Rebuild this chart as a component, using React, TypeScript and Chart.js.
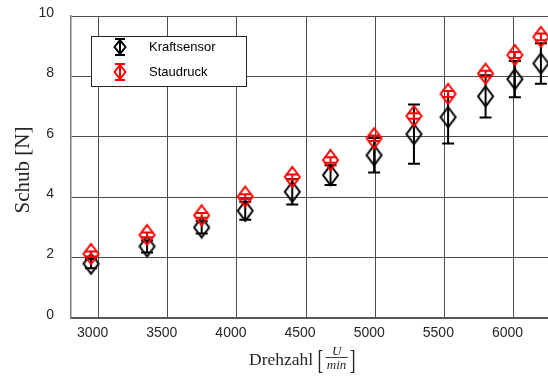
import React, { useEffect, useRef } from "react";
import { Chart, registerables } from "chart.js";

Chart.register(...registerables);

// Drehzahl (rpm) of each measurement
const rpm = [2945, 3350, 3745, 4060, 4400, 4677, 4992, 5280, 5527, 5798, 6010, 6198];

// Thrust from the force sensor: mean and error
const kraftMean = [1.8, 2.37, 3.0, 3.55, 4.18, 4.73, 5.39, 6.09, 6.65, 7.34, 7.91, 8.43];
const kraftErr = [0.15, 0.2, 0.2, 0.3, 0.42, 0.33, 0.57, 0.98, 0.87, 0.7, 0.6, 0.67];

// Thrust from the pitot (Staudruck) measurement: mean and error
const staudruckMean = [2.12, 2.75, 3.4, 4.02, 4.67, 5.23, 5.95, 6.69, 7.42, 8.09, 8.71, 9.31];
const staudruckErr = [0.08, 0.08, 0.08, 0.08, 0.08, 0.09, 0.09, 0.09, 0.1, 0.1, 0.1, 0.11];

const xTicks = [3000, 3500, 4000, 4500, 5000, 5500, 6000];
const yTicks = [0, 2, 4, 6, 8, 10];

const seriesNames = ["Kraftsensor", "Staudruck"];
const seriesColors = ["#000000", "#ff0000"];

const TEXT = "#262626";
const SANS = '"Liberation Sans", Arial, sans-serif';
const SERIF = '"Liberation Serif", "Times New Roman", serif';

function makeDiamond(color: string, w: number, h: number, lw: number) {
  const c = document.createElement("canvas");
  c.width = w + lw * 2 + 2;
  c.height = h + lw * 2 + 2;
  const ctx = c.getContext("2d")!;
  ctx.strokeStyle = color;
  ctx.lineWidth = lw;
  const cx = c.width / 2;
  const cy = c.height / 2;
  ctx.beginPath();
  ctx.moveTo(cx, cy - h / 2);
  ctx.lineTo(cx + w / 2, cy);
  ctx.lineTo(cx, cy + h / 2);
  ctx.lineTo(cx - w / 2, cy);
  ctx.closePath();
  ctx.stroke();
  return c;
}

function drawDiamond(ctx: CanvasRenderingContext2D, x: number, y: number, w: number, h: number) {
  ctx.beginPath();
  ctx.moveTo(x, y - h / 2);
  ctx.lineTo(x + w / 2, y);
  ctx.lineTo(x, y + h / 2);
  ctx.lineTo(x - w / 2, y);
  ctx.closePath();
  ctx.stroke();
}

function drawErrorBar(ctx: CanvasRenderingContext2D, x: number, yTop: number, yBot: number, cap: number) {
  ctx.beginPath();
  ctx.moveTo(x, yTop);
  ctx.lineTo(x, yBot);
  ctx.moveTo(x - cap / 2, yTop);
  ctx.lineTo(x + cap / 2, yTop);
  ctx.moveTo(x - cap / 2, yBot);
  ctx.lineTo(x + cap / 2, yBot);
  ctx.stroke();
}

const errorSets = [
  { mean: kraftMean, err: kraftErr },
  { mean: staudruckMean, err: staudruckErr },
];

const errorBarPlugin = {
  id: "errorBars",
  beforeDatasetDraw(chart: any, args: any) {
    const set = errorSets[args.index];
    if (!set) return;
    const { ctx, chartArea, scales } = chart;
    ctx.save();
    ctx.beginPath();
    ctx.rect(chartArea.left, chartArea.top, chartArea.right - chartArea.left, chartArea.bottom - chartArea.top);
    ctx.clip();
    ctx.strokeStyle = seriesColors[args.index];
    ctx.lineWidth = 2;
    rpm.forEach((r, i) => {
      const x = scales.x.getPixelForValue(r);
      const yTop = scales.y.getPixelForValue(set.mean[i] + set.err[i]);
      const yBot = scales.y.getPixelForValue(set.mean[i] - set.err[i]);
      drawErrorBar(ctx, x, yTop, yBot, 12);
    });
    ctx.restore();
  },
};

const decorPlugin = {
  id: "decor",
  afterDraw(chart: any) {
    const { ctx } = chart;
    ctx.save();

    // legend box
    ctx.fillStyle = "#ffffff";
    ctx.fillRect(91.5, 36.5, 155, 50);
    ctx.strokeStyle = TEXT;
    ctx.lineWidth = 1;
    ctx.strokeRect(91.5, 36.5, 155, 50);
    const rows = [47, 72];
    rows.forEach((y, i) => {
      ctx.strokeStyle = seriesColors[i];
      ctx.lineWidth = 2;
      drawErrorBar(ctx, 120, y - 8, y + 8, 10);
      drawDiamond(ctx, 120, y, 11, 14);
      ctx.fillStyle = "#000000";
      ctx.font = `13px ${SANS}`;
      ctx.textAlign = "left";
      ctx.textBaseline = "middle";
      ctx.fillText(seriesNames[i], 149, y);
    });

    // y axis title
    ctx.fillStyle = TEXT;
    ctx.save();
    ctx.translate(23, 170);
    ctx.rotate(-Math.PI / 2);
    ctx.font = `21px ${SERIF}`;
    ctx.textAlign = "center";
    ctx.textBaseline = "middle";
    ctx.fillText("Schub [N]", 0, 0);
    ctx.restore();

    // x axis title with fraction U/min
    const base = 365;
    let x = 249;
    ctx.textAlign = "left";
    ctx.textBaseline = "alphabetic";
    ctx.font = `17.5px ${SERIF}`;
    ctx.fillText("Drehzahl", x, base);
    x += ctx.measureText("Drehzahl ").width;
    ctx.save();
    ctx.translate(x, base + 4);
    ctx.scale(1, 1.55);
    ctx.fillText("[", 0, 0);
    ctx.restore();
    x += ctx.measureText("[").width + 2;
    ctx.font = `italic 13px ${SERIF}`;
    const fw = ctx.measureText("min").width + 3;
    const fc = x + fw / 2;
    ctx.textAlign = "center";
    ctx.fillText("U", fc, base - 10);
    ctx.fillText("min", fc, base + 4);
    ctx.strokeStyle = TEXT;
    ctx.lineWidth = 0.9;
    ctx.beginPath();
    ctx.moveTo(x, base - 7.5);
    ctx.lineTo(x + fw, base - 7.5);
    ctx.stroke();
    x += fw + 2;
    ctx.textAlign = "left";
    ctx.font = `17.5px ${SERIF}`;
    ctx.save();
    ctx.translate(x, base + 4);
    ctx.scale(1, 1.55);
    ctx.fillText("]", 0, 0);
    ctx.restore();

    ctx.restore();
  },
};

export default function App() {
  const canvasRef = useRef<HTMLCanvasElement | null>(null);

  useEffect(() => {
    const canvas = canvasRef.current;
    if (!canvas) return;

    const blackDiamond = makeDiamond(seriesColors[0], 15, 20, 2);
    const redDiamond = makeDiamond(seriesColors[1], 15, 20, 2);

    const chart = new Chart(canvas, {
      type: "scatter",
      data: {
        datasets: [
          {
            label: seriesNames[0],
            data: rpm.map((r, i) => ({ x: r, y: kraftMean[i] })),
            pointStyle: blackDiamond as any,
            order: 2,
          },
          {
            label: seriesNames[1],
            data: rpm.map((r, i) => ({ x: r, y: staudruckMean[i] })),
            pointStyle: redDiamond as any,
            order: 1,
          },
        ],
      },
      options: {
        responsive: false,
        animation: false,
        events: [],
        layout: { padding: { left: 0, top: 16, right: 15, bottom: 0 } },
        plugins: {
          legend: { display: false },
          tooltip: { enabled: false },
        },
        scales: {
          x: {
            type: "linear",
            min: 2800,
            max: 6300,
            afterBuildTicks: (scale: any) => {
              scale.ticks = xTicks.map((v) => ({ value: v }));
            },
            afterFit: (scale: any) => {
              scale.height = 58;
              scale.paddingLeft = 0;
              scale.paddingRight = 0;
            },
            grid: { color: "#4d4d4d", lineWidth: 1, drawTicks: false },
            border: { display: true, color: "#5a5a5a", width: 1.5 },
            ticks: {
              padding: 7,
              labelOffset: -6,
              color: TEXT,
              font: { family: SANS, size: 14 },
              maxRotation: 0,
              autoSkip: false,
              callback: (v: any) => String(v),
            },
          },
          y: {
            type: "linear",
            min: 0,
            max: 10,
            afterBuildTicks: (scale: any) => {
              scale.ticks = yTicks.map((v) => ({ value: v }));
            },
            afterFit: (scale: any) => {
              scale.width = 71;
              scale.paddingTop = 0;
              scale.paddingBottom = 0;
            },
            grid: { color: "#4d4d4d", lineWidth: 1, drawTicks: false },
            border: { display: true, color: "#7a7a7a", width: 1.5 },
            ticks: {
              padding: 17,
              labelOffset: -3,
              color: TEXT,
              font: { family: SANS, size: 14 },
              autoSkip: false,
              callback: (v: any) => String(v),
            },
          },
        },
      },
      plugins: [errorBarPlugin, decorPlugin],
    });

    return () => chart.destroy();
  }, []);

  return (
    <div
      style={{
        position: "fixed",
        left: 0,
        top: 0,
        width: 548,
        height: 376,
        overflow: "hidden",
        background: "#ffffff",
      }}
    >
      <canvas ref={canvasRef} width={570} height={376} style={{ display: "block" }} />
    </div>
  );
}
